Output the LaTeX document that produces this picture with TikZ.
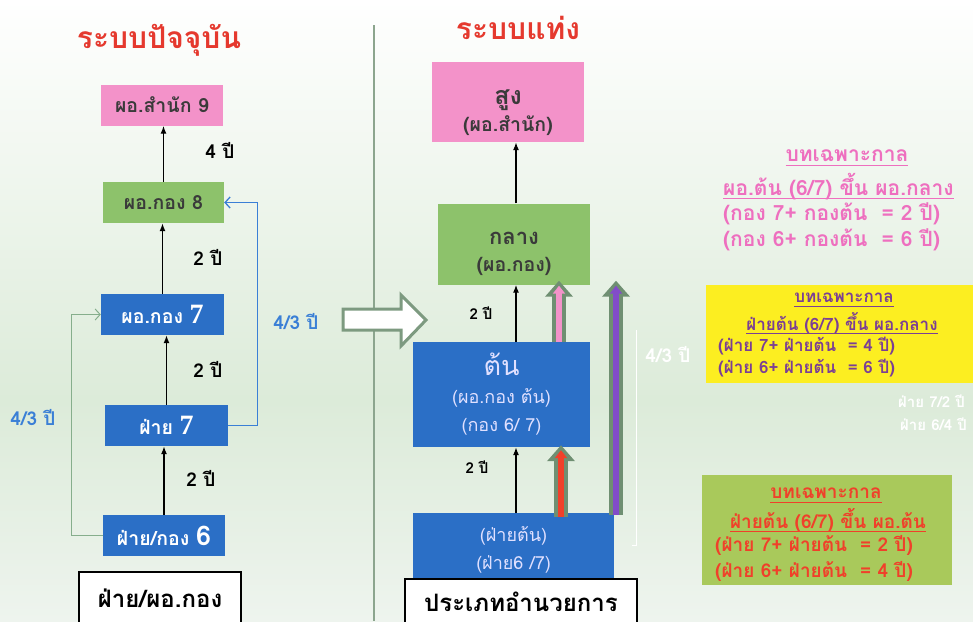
\documentclass[tikz,border=0pt]{standalone}
\usepackage{fontspec}
\setmainfont[Script=Thai]{Loma}
\newfontfamily\numfont{Liberation Serif}
\usetikzlibrary{arrows.meta}

\definecolor{titlered}{HTML}{E5392E}
\definecolor{rankpink}{HTML}{F392C9}
\definecolor{rankgreen}{HTML}{8DC26B}
\definecolor{rankblue}{HTML}{2B6FC6}
\definecolor{darktext}{HTML}{3A3A3A}
\definecolor{loopgreen}{HTML}{86AE8C}
\definecolor{loopblue}{HTML}{3A7FD6}
\definecolor{fatgray}{HTML}{6F8F72}
\definecolor{notepink}{HTML}{EE6FBF}
\definecolor{notepurple}{HTML}{7B3F94}
\definecolor{notered}{HTML}{F0402A}
\definecolor{noteyellow}{HTML}{FCEE21}
\definecolor{notegreen}{HTML}{A9C95B}
\definecolor{bgtop}{HTML}{FFFFFF}
\definecolor{bgmid}{HTML}{DCEBD9}
\definecolor{bgbot}{HTML}{EEF4EE}

\newcommand\thaiul[1]{\underline{\raisebox{0pt}[\height][2pt]{#1}}}

\tikzset{
  rank/.style={inner sep=0, font=\bfseries\fontsize{19.5}{22}\selectfont},
  pinkrank/.style={rank, fill=rankpink, text=darktext},
  greenrank/.style={rank, fill=rankgreen, text=darktext},
  bluerank/.style={rank, fill=rankblue, text=white},
  typebox/.style={draw=black, line width=1.2, fill=white, inner sep=0,
    font=\bfseries\fontsize{24}{26}\selectfont},
  up/.style={-{Latex[length=8,width=6]}, line width=1.3},
  yrs/.style={font=\bfseries\fontsize{19}{21}\selectfont},
  bluetxt/.style={yrs, text=loopblue},
  title/.style={font=\bfseries\fontsize{30}{32}\selectfont, text=titlered},
  fatout/.style={line width=14, draw=fatgray, -{Triangle[width=27,length=16]}},
  fatin/.style={line width=6, -{Triangle[width=12,length=8]}, shorten >=5},
  note/.style={font=\bfseries\fontsize{21}{23}\selectfont, inner sep=0},
  ghost/.style={text=white, font=\bfseries\fontsize{15}{17}\selectfont, inner sep=0}
}

\begin{document}
\begin{tikzpicture}[x=1pt,y=-1pt]
\clip (0,0) rectangle (973,621);
% background
\shade[top color=bgtop, bottom color=bgmid] (0,0) rectangle (973,400);
\shade[top color=bgmid, bottom color=bgbot] (0,400) rectangle (973,621);
\draw[fatgray!80, line width=1.2] (374,25) -- (374,621);

% current system
\node[title] (nowtitle) at (159,40) {ระบบปัจจุบัน};
\node[pinkrank, minimum width=122, minimum height=41] (now9) at (162,105) {ผอ.สำนัก 9};
\node[greenrank, minimum width=121, minimum height=41] (now8) at (163.5,202.5) {ผอ.กอง 8};
\node[bluerank, minimum width=123, minimum height=41] (now7) at (162.5,314.5) {ผอ.กอง {\numfont\fontsize{28}{28}\selectfont 7}};
\node[bluerank, minimum width=123, minimum height=41] (phai7) at (166.5,425.5) {ฝ่าย {\numfont\fontsize{28}{28}\selectfont 7}};
\node[bluerank, minimum width=122, minimum height=41] (phai6) at (164,535.5) {ฝ่าย/กอง {\fontsize{27}{27}\selectfont 6}};
\node[typebox, minimum width=162, minimum height=52] (nowtype) at (160,598) {ฝ่าย/ผอ.กอง};

\draw[up] (now8.north) -- (now8.north |- now9.south);
\node[yrs] (gap98) at (220,150) {4 ปี};
\draw[up] (now7.north) -- (now7.north |- now8.south);
\node[yrs] (gap87) at (208,257) {2 ปี};
\draw[up] (phai7.north) -- (phai7.north |- now7.south);
\node[yrs] (gap77) at (208,369) {2 ปี};
\draw[up] (phai6.north) -- (phai6.north |- phai7.south);
\node[yrs] (gap67) at (201,478) {2 ปี};

\draw[loopgreen, line width=1, -{Straight Barb[length=5,width=11]}] (phai6.west) -- ++(-31,0) |- (now7.west);
\node[bluetxt] (skip6) at (33,418) {4/3 ปี};
\draw[loopblue, line width=1.3, -{Straight Barb[length=5,width=11]}] (phai7.east) -- ++(29,0) |- (now8.east);
\node[bluetxt] (skip7) at (296,322) {4/3 ปี};

% move over
\draw[fatgray!90, line width=3, fill=white] (343,309) -- (401,309) -- (401,295) -- (426,320)
  -- (401,346) -- (401,330) -- (343,330) -- cycle;

% band system
\node[title] (bandtitle) at (518,28) {ระบบแท่ง};
\node[pinkrank, minimum width=152, minimum height=80, align=center] (high) at (508,102)
  {\rule{0pt}{36pt}{\fontsize{25}{27}\selectfont สูง}\\[4pt](ผอ.สำนัก)};
\node[greenrank, minimum width=152, minimum height=81, align=center] (mid) at (514,244)
  {\rule{0pt}{33pt}{\fontsize{22}{24}\selectfont กลาง}\\[5pt](ผอ.กอง)};
\node[bluerank, text=white!88!blue, minimum width=177, minimum height=105, align=center,
  font=\fontsize{18}{28}\selectfont] (low) at (501.5,394.5)
  {{\fontsize{27}{30}\selectfont ต้น}\\(ผอ.กอง ต้น)\\(กอง 6/ 7)};
\node[bluerank, text=white!88!blue, minimum width=201, minimum height=67, align=center,
  font=\fontsize{18}{28}\selectfont] (base) at (513.5,546.5)
  {\rule{0pt}{22pt}(ฝ่ายต้น)\\(ฝ่าย6 /7)};
\node[typebox, minimum width=232, minimum height=46] (bandtype) at (521,602) {ประเภทอำนวยการ};

\coordinate (ax) at (516,0);
\draw[up] (mid.north -| ax) -- (high.south -| ax);
\draw[up] (low.north -| ax) -- (mid.south -| ax);
\node[yrs, font=\bfseries\fontsize{15}{17}\selectfont] (gapmid) at (481,313) {2 ปี};
\draw[up] (base.north -| ax) -- (low.south -| ax);
\node[yrs, font=\bfseries\fontsize{15}{17}\selectfont] (gaplow) at (477,467) {2 ปี};

\coordinate (pinkx) at (559,0);
\coordinate (redx) at (561,0);
\coordinate (purx) at (616,0);
\draw[fatout] (low.north -| pinkx) -- ([yshift=4]mid.south -| pinkx);
\draw[fatin, rankpink] (low.north -| pinkx) -- ([yshift=4]mid.south -| pinkx);
\draw[fatout] ([yshift=-4]base.north -| redx) -- ([yshift=2]low.south -| redx);
\draw[fatin, notered] ([yshift=-4]base.north -| redx) -- ([yshift=2]low.south -| redx);
\draw[fatout] ([yshift=-2]base.north -| purx) -- ([yshift=4]mid.south -| purx);
\draw[fatin, violet!60!blue!70!white] ([yshift=-2]base.north -| purx) -- ([yshift=4]mid.south -| purx);

\coordinate (bracket) at (636,330);
\draw[white, line width=1] (bracket) |- ++(-4,215);
\node[ghost, font=\bfseries\fontsize{19}{21}\selectfont] (ghostskip) at (668,355) {4/3 ปี};

% transitional notes
\node[note, text=notepink] (pinkhead) at (847,158) {\thaiul{บทเฉพาะกาล}};
\node[note, text=notepink, anchor=west] (pinksub) at (723,186) {\thaiul{ผอ.ต้น (6/7) ขึ้น ผอ.กลาง}};
\node[note, text=notepink, anchor=west] (pinkone) at (723,214) {(กอง 7+ กองต้น~ = 2 ปี)};
\node[note, text=notepink, anchor=west] (pinktwo) at (723,240) {(กอง 6+ กองต้น~ = 6 ปี)};

\fill[noteyellow] (706,285) rectangle (973,383);
\node[note, text=notepurple, font=\bfseries\fontsize{17}{19}\selectfont] (yellowhead) at (844,300) {\thaiul{บทเฉพาะกาล}};
\node[note, text=notepurple, font=\bfseries\fontsize{17}{19}\selectfont] (yellowsub) at (842,323) {\thaiul{ฝ่ายต้น (6/7) ขึ้น ผอ.กลาง}};
\node[note, text=notepurple, font=\bfseries\fontsize{17}{19}\selectfont, anchor=west] (yellowone) at (718,346) {(ฝ่าย 7+ ฝ่ายต้น~ = 4 ปี)};
\node[note, text=notepurple, font=\bfseries\fontsize{17}{19}\selectfont, anchor=west] (yellowtwo) at (718,368) {(ฝ่าย 6+ ฝ่ายต้น~ = 6 ปี)};
\node[ghost, anchor=west] (ghostone) at (898,401) {ฝ่าย 7/2 ปี};
\node[ghost, anchor=west] (ghosttwo) at (900,424) {ฝ่าย 6/4 ปี};

\fill[notegreen] (702,475) rectangle (952,585);
\node[note, text=notered, font=\bfseries\fontsize{19}{21}\selectfont] (greenhead) at (826,495) {\thaiul{บทเฉพาะกาล}};
\node[note, text=notered, font=\bfseries\fontsize{19}{21}\selectfont] (greensub) at (828,520) {\thaiul{ฝ่ายต้น (6/7) ขึ้น ผอ.ต้น}};
\node[note, text=notered, font=\bfseries\fontsize{19}{21}\selectfont, anchor=west] (greenone) at (715,545) {(ฝ่าย 7+ ฝ่ายต้น~ = 2 ปี)};
\node[note, text=notered, font=\bfseries\fontsize{19}{21}\selectfont, anchor=west] (greentwo) at (715,571) {(ฝ่าย 6+ ฝ่ายต้น~ = 4 ปี)};
\end{tikzpicture}
\end{document}
